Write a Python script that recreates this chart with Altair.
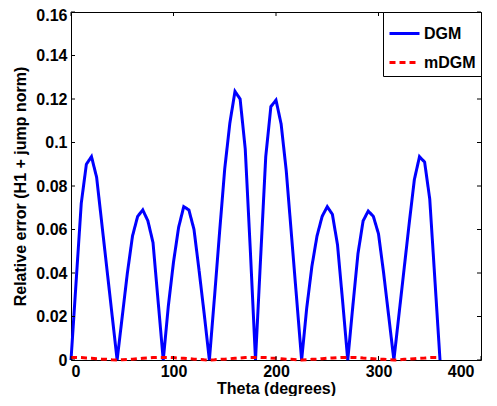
import altair as alt
import pandas as pd

# ---- data ----
theta = list(range(0, 365, 5))
dgm = [0.0, 0.036, 0.072, 0.090, 0.0935, 0.084, 0.063, 0.042, 0.021,   # 0-40
       0.0, 0.020, 0.040, 0.057, 0.066, 0.069, 0.064, 0.054, 0.027,    # 45-85
       0.0, 0.025, 0.045, 0.061, 0.0705, 0.069, 0.060, 0.041, 0.021,   # 90-130
       0.0, 0.029, 0.059, 0.088, 0.109, 0.1235, 0.120, 0.097, 0.050,   # 135-175
       0.0, 0.047, 0.0935, 0.1165, 0.1195, 0.1085, 0.087, 0.058, 0.029,  # 180-220
       0.0, 0.024, 0.043, 0.057, 0.066, 0.0705, 0.067, 0.053, 0.027,   # 225-265
       0.0, 0.025, 0.049, 0.064, 0.0685, 0.066, 0.058, 0.040, 0.020,   # 270-310
       0.0, 0.021, 0.042, 0.063, 0.083, 0.0935, 0.091, 0.074, 0.037,   # 315-355
       0.0]                                                            # 360
mdgm = [0.0012, 0.0012, 0.0011, 0.0009, 0.0008, 0.0006, 0.0004, 0.0003, 0.0001,
        0.0000, 0.0001, 0.0003, 0.0004, 0.0006, 0.0008, 0.0009, 0.0011, 0.0012,
        0.0012, 0.0012, 0.0011, 0.0009, 0.0008, 0.0006, 0.0004, 0.0003, 0.0001,
        0.0000, 0.0001, 0.0003, 0.0004, 0.0006, 0.0008, 0.0009, 0.0011, 0.0012,
        0.0012, 0.0012, 0.0011, 0.0009, 0.0008, 0.0006, 0.0004, 0.0003, 0.0001,
        0.0000, 0.0001, 0.0003, 0.0004, 0.0006, 0.0008, 0.0009, 0.0011, 0.0012,
        0.0012, 0.0012, 0.0011, 0.0009, 0.0008, 0.0006, 0.0004, 0.0003, 0.0001,
        0.0000, 0.0001, 0.0003, 0.0004, 0.0006, 0.0008, 0.0009, 0.0011, 0.0012,
        0.0012]
series_names = ["DGM", "mDGM"]
series_colors = ["#0000ff", "#ff0000"]
x_ticks = [0, 100, 200, 300, 400]
y_ticks = [0, 0.02, 0.04, 0.06, 0.08, 0.1, 0.12, 0.14, 0.16]

W, H = 410, 348
TL = 4  # inward tick length
FONT = "Liberation Sans"

df = pd.DataFrame({
    "theta": theta * 2,
    "error": dgm + mdgm,
    "series": [series_names[0]] * len(theta) + [series_names[1]] * len(theta),
})
xt = pd.DataFrame({"theta": x_ticks})
yt = pd.DataFrame({"error": y_ticks})

xscale = alt.Scale(domain=[0, 400], nice=False, zero=False)
yscale = alt.Scale(domain=[0, 0.16], nice=False)

fmt = "format(datum.value, '~g')"

xaxis = alt.Axis(values=x_ticks, labelExpr=fmt, title="Theta (degrees)",
                 ticks=False, domain=False, grid=False, labelPadding=3, titlePadding=1,
                 labelOffset={"condition": {"test": "datum.value >= 400", "value": -7}, "value": 0})
yaxis = alt.Axis(values=y_ticks, labelExpr=fmt, title="Relative error (H1 + jump norm)",
                 ticks=False, domain=False, grid=False, labelPadding=4, titlePadding=7,
                 labelOffset={"condition": {"test": "datum.value >= 0.159", "value": 3}, "value": 0})

legend = alt.Legend(
    title=None, orient="top-right", offset=0, padding=5,
    strokeColor="black", fillColor="white",
    symbolType="stroke", symbolSize=900, symbolStrokeWidth=3,
    labelFont=FONT, labelFontSize=16, labelFontWeight="bold", labelColor="black",
    rowPadding=4, labelOffset=3,
)

lines = alt.Chart(df).mark_line(strokeWidth=3).encode(
    x=alt.X("theta:Q", scale=xscale, axis=xaxis),
    y=alt.Y("error:Q", scale=yscale, axis=yaxis),
    color=alt.Color("series:N", scale=alt.Scale(domain=series_names, range=series_colors), legend=legend),
    strokeDash=alt.StrokeDash("series:N", scale=alt.Scale(domain=series_names, range=[[1, 0], [6, 4]]), legend=legend),
)

bottom_ticks = alt.Chart(xt).mark_rule(color="black", strokeWidth=1).encode(
    x=alt.X("theta:Q", scale=xscale, axis=xaxis), y=alt.value(H), y2=alt.value(H - TL))
top_ticks = alt.Chart(xt).mark_rule(color="black", strokeWidth=1).encode(
    x=alt.X("theta:Q", scale=xscale, axis=xaxis), y=alt.value(0), y2=alt.value(TL))
left_ticks = alt.Chart(yt).mark_rule(color="black", strokeWidth=1).encode(
    y=alt.Y("error:Q", scale=yscale, axis=yaxis), x=alt.value(0), x2=alt.value(TL))
right_ticks = alt.Chart(yt).mark_rule(color="black", strokeWidth=1).encode(
    y=alt.Y("error:Q", scale=yscale, axis=yaxis), x=alt.value(W), x2=alt.value(W - TL))

chart = alt.layer(lines, bottom_ticks, top_ticks, left_ticks, right_ticks).properties(
    width=W, height=H,
    autosize=alt.AutoSizeParams(type="none"),
    padding={"left": 63, "top": 4, "right": 8, "bottom": 36},
).configure_view(stroke="black", strokeWidth=1).configure_axis(
    labelFont=FONT, labelFontSize=16, labelFontWeight="bold", labelColor="black",
    titleFont=FONT, titleFontSize=16, titleFontWeight="bold", titleColor="black",
)

chart.save("out.html", embed_options={"renderer": "svg", "actions": False})
